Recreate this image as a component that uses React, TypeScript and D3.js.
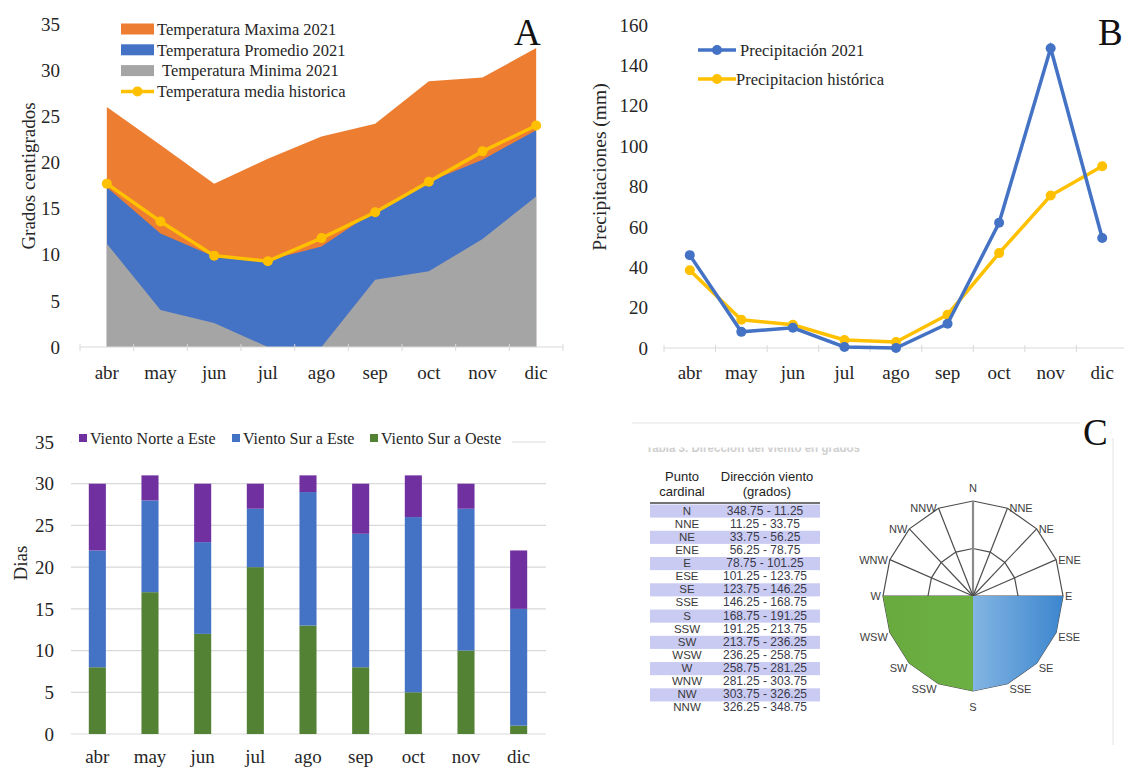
import { useEffect, useRef } from "react";
import * as d3 from "d3";

const months = ["abr", "may", "jun", "jul", "ago", "sep", "oct", "nov", "dic"];

// Panel A - temperaturas (°C)
const tempMax = [26.0, 21.9, 17.7, 20.4, 22.8, 24.2, 28.8, 29.2, 32.4];
const tempProm = [17.3, 12.3, 9.8, 9.4, 10.9, 14.8, 17.9, 20.3, 23.5];
const tempMin = [11.2, 4.0, 2.6, 0, 0, 7.3, 8.2, 11.7, 16.3];
const tempHist = [17.7, 13.6, 9.9, 9.3, 11.8, 14.6, 17.9, 21.2, 24.0];

// Panel B - precipitaciones (mm)
const precip2021 = [46, 8, 10, 0.5, 0, 12, 62, 148.5, 54.5];
const precipHist = [38.5, 14, 11.5, 4, 3, 16.5, 47, 75.5, 90];

// Dias de viento por mes
const vientoSurOeste = [8, 17, 12, 20, 13, 8, 5, 10, 1];
const vientoSurEste = [14, 11, 11, 7, 16, 16, 21, 17, 14];
const vientoNorteEste = [8, 3, 7, 3, 2, 6, 5, 3, 7];

// Panel C - tabla y rosa
const puntos = ["N", "NNE", "NE", "ENE", "E", "ESE", "SE", "SSE", "S", "SSW", "SW", "WSW", "W", "WNW", "NW", "NNW"];
const rangos = [
    "348.75 - 11.25", "11.25 - 33.75", "33.75 - 56.25", "56.25 - 78.75",
    "78.75 - 101.25", "101.25 - 123.75", "123.75 - 146.25", "146.25 - 168.75",
    "168.75 - 191.25", "191.25 - 213.75", "213.75 - 236.25", "236.25 - 258.75",
    "258.75 - 281.25", "281.25 - 303.75", "303.75 - 326.25", "326.25 - 348.75",
];
const roseOeste = [0, 0, 0, 0, 0, 0, 0, 0, 1, 1, 1, 1, 1, 0, 0, 0];
const roseEste = [0, 0, 0, 0, 1, 1, 1, 1, 1, 0, 0, 0, 0, 0, 0, 0];

const SERIF = "'Liberation Serif', 'Times New Roman', serif";
const SANS = "'Liberation Sans', Arial, sans-serif";
const TXT = "#262626";

export default function App() {
    const ref = useRef<SVGSVGElement | null>(null);

    useEffect(() => {
        if (!ref.current) return;
        const svg = d3.select(ref.current);
        svg.selectAll("*").remove();

        svg.append("rect").attr("width", 1124).attr("height", 767).attr("fill", "#fff");

        // ---------- Panel A ----------
        const gA = svg.append("g");
        const xA = d3.scaleBand<string>().domain(months).range([80, 563]);
        const cA = (i: number) => (xA(months[i]) as number) + xA.bandwidth() / 2;
        const yA = d3.scaleLinear().domain([0, 35]).range([347, 24]);

        const areaA = d3.area<number>()
            .x((d, i) => cA(i))
            .y0(yA(0))
            .y1((d) => yA(d));

        [[tempMax, "#ED7D31"], [tempProm, "#4472C4"], [tempMin, "#A5A5A5"]].forEach(([vals, col]) => {
            gA.append("path").attr("d", areaA(vals as number[])).attr("fill", col as string);
        });

        gA.append("line").attr("x1", 80).attr("x2", 563).attr("y1", yA(0)).attr("y2", yA(0))
            .attr("stroke", "#D9D9D9").attr("stroke-width", 1.2);
        [...months.map((m) => xA(m) as number), 563].forEach((x) => {
            gA.append("line").attr("x1", x).attr("x2", x).attr("y1", yA(0) - 3).attr("y2", yA(0) + 4)
                .attr("stroke", "#D9D9D9");
        });

        const lineA = d3.line<number>().x((d, i) => cA(i)).y((d) => yA(d));
        gA.append("path").attr("d", lineA(tempHist)).attr("fill", "none")
            .attr("stroke", "#FFC000").attr("stroke-width", 3.5);
        gA.selectAll("circle.hist").data(tempHist).enter().append("circle")
            .attr("cx", (d, i) => cA(i)).attr("cy", (d) => yA(d)).attr("r", 5).attr("fill", "#FFC000");

        gA.selectAll("text.ty").data(yA.ticks(7)).enter().append("text")
            .attr("x", 60).attr("y", (d) => yA(d)).attr("dy", "0.35em")
            .attr("text-anchor", "end").attr("font-family", SERIF).attr("font-size", 19).attr("fill", TXT)
            .text((d) => d);
        gA.selectAll("text.tx").data(months).enter().append("text")
            .attr("x", (d, i) => cA(i)).attr("y", 379)
            .attr("text-anchor", "middle").attr("font-family", SERIF).attr("font-size", 19).attr("fill", TXT)
            .text((d) => d);
        gA.append("text").attr("transform", "translate(28,176) rotate(-90)")
            .attr("text-anchor", "middle").attr("dominant-baseline", "central")
            .attr("font-family", SERIF).attr("font-size", 19).attr("fill", TXT).text("Grados centigrados");

        const legA = [
            { label: "Temperatura Maxima 2021", color: "#ED7D31", kind: "rect", tx: 157 },
            { label: "Temperatura Promedio 2021", color: "#4472C4", kind: "rect", tx: 157 },
            { label: "Temperatura Minima 2021", color: "#A5A5A5", kind: "rect", tx: 162 },
            { label: "Temperatura media historica", color: "#FFC000", kind: "line", tx: 157 },
        ];
        legA.forEach((l, i) => {
            const y = 29 + i * 20.8;
            if (l.kind === "rect") {
                gA.append("rect").attr("x", 121).attr("y", y - 5.5).attr("width", 33).attr("height", 11).attr("fill", l.color);
            } else {
                gA.append("line").attr("x1", 121).attr("x2", 154).attr("y1", y).attr("y2", y)
                    .attr("stroke", l.color).attr("stroke-width", 3.5);
                gA.append("circle").attr("cx", 137.5).attr("cy", y).attr("r", 5).attr("fill", l.color);
            }
            gA.append("text").attr("x", l.tx).attr("y", y).attr("dy", "0.35em")
                .attr("font-family", SERIF).attr("font-size", 16.5).attr("fill", TXT).text(l.label);
        });
        gA.append("text").attr("x", 514).attr("y", 45).attr("font-family", SERIF).attr("font-size", 37)
            .attr("fill", "#111").text("A");

        // ---------- Panel B ----------
        const gB = svg.append("g");
        const xB = d3.scaleBand<string>().domain(months).range([664, 1128]);
        const cB = (i: number) => (xB(months[i]) as number) + xB.bandwidth() / 2;
        const yB = d3.scaleLinear().domain([0, 160]).range([348, 25]);

        gB.append("line").attr("x1", 664).attr("x2", 1124).attr("y1", yB(0)).attr("y2", yB(0))
            .attr("stroke", "#D9D9D9").attr("stroke-width", 1.2);
        months.forEach((m) => {
            const x = xB(m) as number;
            gB.append("line").attr("x1", x).attr("x2", x).attr("y1", yB(0) - 3).attr("y2", yB(0) + 4)
                .attr("stroke", "#D9D9D9");
        });

        const lineB = d3.line<number>().x((d, i) => cB(i)).y((d) => yB(d));
        [[precipHist, "#FFC000"], [precip2021, "#4472C4"]].forEach(([vals, col]) => {
            gB.append("path").attr("d", lineB(vals as number[])).attr("fill", "none")
                .attr("stroke", col as string).attr("stroke-width", 3.5);
            (vals as number[]).forEach((v, i) => {
                gB.append("circle").attr("cx", cB(i)).attr("cy", yB(v)).attr("r", 5).attr("fill", col as string);
            });
        });

        gB.selectAll("text.ty").data(yB.ticks(8)).enter().append("text")
            .attr("x", 648).attr("y", (d) => yB(d)).attr("dy", "0.35em")
            .attr("text-anchor", "end").attr("font-family", SERIF).attr("font-size", 19).attr("fill", TXT)
            .text((d) => d);
        gB.selectAll("text.tx").data(months).enter().append("text")
            .attr("x", (d, i) => cB(i)).attr("y", 379)
            .attr("text-anchor", "middle").attr("font-family", SERIF).attr("font-size", 19).attr("fill", TXT)
            .text((d) => d);
        gB.append("text").attr("transform", "translate(599,167) rotate(-90)")
            .attr("text-anchor", "middle").attr("dominant-baseline", "central")
            .attr("font-family", SERIF).attr("font-size", 19.5).attr("fill", TXT).text("Precipitaciones (mm)");

        const legB = [
            { label: "Precipitación 2021", color: "#4472C4", tx: 740 },
            { label: "Precipitacion histórica", color: "#FFC000", tx: 736 },
        ];
        legB.forEach((l, i) => {
            const y = 50 + i * 29;
            gB.append("line").attr("x1", 698).attr("x2", 736).attr("y1", y).attr("y2", y)
                .attr("stroke", l.color).attr("stroke-width", 3.5);
            gB.append("circle").attr("cx", 717).attr("cy", y).attr("r", 5).attr("fill", l.color);
            gB.append("text").attr("x", l.tx).attr("y", y).attr("dy", "0.35em")
                .attr("font-family", SERIF).attr("font-size", 16.5).attr("fill", TXT).text(l.label);
        });
        gB.append("text").attr("x", 1098).attr("y", 45).attr("font-family", SERIF).attr("font-size", 37)
            .attr("fill", "#111").text("B");

        // ---------- Dias de viento ----------
        const gD = svg.append("g");
        const xD = d3.scaleBand<string>().domain(months).range([71, 545]).paddingInner(0.676).paddingOuter(0.338);
        const yD = d3.scaleLinear().domain([0, 35]).range([734, 442]);

        yD.ticks(7).forEach((t) => {
            gD.append("line").attr("x1", 71).attr("x2", 546).attr("y1", yD(t)).attr("y2", yD(t))
                .attr("stroke", "#D9D9D9").attr("stroke-width", 1.2);
        });

        const rows = months.map((m, i) => ({
            mes: m,
            oeste: vientoSurOeste[i],
            surEste: vientoSurEste[i],
            norteEste: vientoNorteEste[i],
        }));
        const keys = ["oeste", "surEste", "norteEste"];
        const colD: Record<string, string> = { oeste: "#548235", surEste: "#4472C4", norteEste: "#7030A0" };
        const stacked = d3.stack<any>().keys(keys)(rows);
        stacked.forEach((s) => {
            gD.selectAll(`rect.${s.key}`).data(s).enter().append("rect")
                .attr("x", (d) => xD(d.data.mes) as number)
                .attr("width", xD.bandwidth())
                .attr("y", (d) => yD(d[1]))
                .attr("height", (d) => yD(d[0]) - yD(d[1]))
                .attr("fill", colD[s.key]);
        });

        gD.selectAll("text.ty").data(yD.ticks(7)).enter().append("text")
            .attr("x", 54).attr("y", (d) => yD(d)).attr("dy", "0.35em")
            .attr("text-anchor", "end").attr("font-family", SERIF).attr("font-size", 19).attr("fill", TXT)
            .text((d) => d);
        gD.selectAll("text.tx").data(months).enter().append("text")
            .attr("x", (d) => (xD(d) as number) + xD.bandwidth() / 2).attr("y", 763)
            .attr("text-anchor", "middle").attr("font-family", SERIF).attr("font-size", 19).attr("fill", TXT)
            .text((d) => d);
        gD.append("text").attr("transform", "translate(20,563) rotate(-90)")
            .attr("text-anchor", "middle").attr("dominant-baseline", "central")
            .attr("font-family", SERIF).attr("font-size", 19).attr("fill", TXT).text("Dias");

        gD.append("rect").attr("x", 72).attr("y", 428).attr("width", 440).attr("height", 20).attr("fill", "#fff");
        const legD = [
            { label: "Viento Norte a Este", color: "#7030A0", x: 79 },
            { label: "Viento Sur a Este", color: "#4472C4", x: 232 },
            { label: "Viento Sur a Oeste", color: "#548235", x: 370 },
        ];
        legD.forEach((l) => {
            gD.append("rect").attr("x", l.x).attr("y", 434).attr("width", 8).attr("height", 8).attr("fill", l.color);
            gD.append("text").attr("x", l.x + 11).attr("y", 438).attr("dy", "0.35em")
                .attr("font-family", SERIF).attr("font-size", 16).attr("fill", TXT).text(l.label);
        });

        // ---------- Panel C ----------
        const gC = svg.append("g");
        gC.append("line").attr("x1", 632).attr("x2", 1080).attr("y1", 423).attr("y2", 423)
            .attr("stroke", "#ececec").attr("stroke-width", 1.5);
        gC.append("line").attr("x1", 1113).attr("x2", 1113).attr("y1", 438).attr("y2", 745)
            .attr("stroke", "#ececec").attr("stroke-width", 1.5);
        gC.append("text").attr("x", 1083).attr("y", 445).attr("font-family", SERIF).attr("font-size", 37)
            .attr("fill", "#111").text("C");

        const defs = svg.append("defs");
        defs.append("clipPath").attr("id", "clipTitle").append("rect")
            .attr("x", 630).attr("y", 447.5).attr("width", 250).attr("height", 10);
        gC.append("text").attr("x", 646).attr("y", 452).attr("clip-path", "url(#clipTitle)")
            .attr("font-family", SANS).attr("font-size", 13).attr("font-weight", "bold").attr("fill", "#cfcfcf")
            .attr("textLength", 214).attr("lengthAdjust", "spacingAndGlyphs")
            .text("Tabla 3. Dirección del viento en grados");

        // tabla
        const rowH = 13.13;
        const yT = (i: number) => 504 + i * rowH;
        [["Punto", 682, 481], ["cardinal", 682, 496], ["Dirección viento", 767, 481], ["(grados)", 767, 496]].forEach(([t, x, y]) => {
            gC.append("text").attr("x", x as number).attr("y", y as number).attr("text-anchor", "middle")
                .attr("font-family", SANS).attr("font-size", 13).attr("fill", "#222").text(t as string);
        });
        gC.append("line").attr("x1", 650).attr("x2", 820).attr("y1", 503).attr("y2", 503)
            .attr("stroke", "#444").attr("stroke-width", 1.6);
        puntos.forEach((p, i) => {
            if (i % 2 === 0) {
                gC.append("rect").attr("x", 650).attr("y", yT(i) + 0.5).attr("width", 170).attr("height", rowH)
                    .attr("fill", "#CACBF3");
            }
            gC.append("text").attr("x", 687).attr("y", yT(i) + 10.5).attr("text-anchor", "middle")
                .attr("font-family", SANS).attr("font-size", 11.5).attr("fill", "#3a3a3a").text(p);
            gC.append("text").attr("x", 765).attr("y", yT(i) + 10.5).attr("text-anchor", "middle")
                .attr("font-family", SANS).attr("font-size", 12).attr("fill", "#3a3a4a").text(rangos[i]);
        });

        // rosa de vientos
        const cx = 973, cy = 596;
        const rX = d3.scaleLinear().domain([0, 1]).range([0, 90]);
        const rY = d3.scaleLinear().domain([0, 1]).range([0, 95]);
        const ang = (i: number) => (i * 22.5 * Math.PI) / 180;
        const pt = (i: number, v: number): [number, number] => [cx + rX(v) * Math.sin(ang(i)), cy - rY(v) * Math.cos(ang(i))];
        const poly = d3.line<[number, number]>().curve(d3.curveLinearClosed);

        const gradB = defs.append("linearGradient").attr("id", "gBlue").attr("x1", "0").attr("x2", "1").attr("y1", "0").attr("y2", "0");
        gradB.append("stop").attr("offset", "0").attr("stop-color", "#83B5E3");
        gradB.append("stop").attr("offset", "1").attr("stop-color", "#3C86CE");
        const gradG = defs.append("linearGradient").attr("id", "gGreen").attr("x1", "0").attr("x2", "1").attr("y1", "0").attr("y2", "0");
        gradG.append("stop").attr("offset", "0").attr("stop-color", "#68AA3E");
        gradG.append("stop").attr("offset", "1").attr("stop-color", "#6CB043");

        [0.5, 1].forEach((r) => {
            gC.append("path").attr("d", poly(puntos.map((p, i) => pt(i, r)))).attr("fill", "none")
                .attr("stroke", "#4d4d4d").attr("stroke-width", 1.2);
        });
        puntos.forEach((p, i) => {
            const [x, y] = pt(i, 1);
            gC.append("line").attr("x1", cx).attr("y1", cy).attr("x2", x).attr("y2", y)
                .attr("stroke", i === 0 ? "#8a8a8a" : "#4d4d4d").attr("stroke-width", i === 0 ? 2.2 : 1.2);
        });

        gC.append("path").attr("d", poly(roseOeste.map((v, i) => pt(i, v)))).attr("fill", "url(#gGreen)");
        gC.append("path").attr("d", poly(roseEste.map((v, i) => pt(i, v)))).attr("fill", "url(#gBlue)");

        puntos.forEach((p, i) => {
            const [x, y] = pt(i, 1);
            const s = Math.sin(ang(i)), c = Math.cos(ang(i));
            let anchor = "middle", lx = x, ly = y + 4;
            if (Math.abs(s) < 0.01) {
                ly = c > 0 ? y - 9 : y + 20;
            } else {
                anchor = s > 0 ? "start" : "end";
                lx = s > 0 ? x + 2 : x - 2;
                ly = c < -0.01 ? y + 9 : y + 4;
            }
            gC.append("text").attr("x", lx).attr("y", ly).attr("text-anchor", anchor)
                .attr("font-family", SANS).attr("font-size", 11).attr("fill", "#404040").text(p);
        });
    }, []);

    return (
        <svg
            ref={(el) => { if (el) ref.current = el; }}
            width={1124}
            height={767}
            style={{ position: "absolute", left: 0, top: 0 }}
        />
    );
}
